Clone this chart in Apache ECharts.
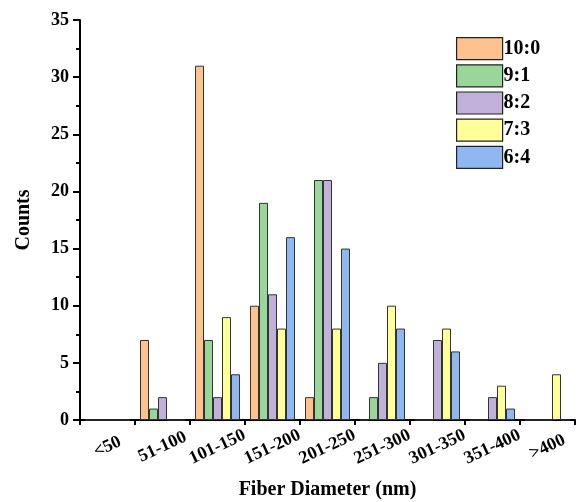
<!DOCTYPE html>
<html>
<head>
<meta charset="utf-8">
<script src="https://cdn.jsdelivr.net/npm/echarts@6/dist/echarts.min.js"></script>
<style>html,body{margin:0;padding:0;background:#fff}#c{width:577px;height:502px}</style>
</head>
<body>
<div id="c"></div>
<script>
var categories = ['<50', '51-100', '101-150', '151-200', '201-250', '251-300', '301-350', '351-400', '>400'];
var seriesNames = ['10:0', '9:1', '8:2', '7:3', '6:4'];
var s10_0 = [0, 7, 31, 10, 2, 0, 0, 0, 0];
var s9_1  = [0, 1, 7, 19, 21, 2, 0, 0, 0];
var s8_2  = [0, 2, 2, 11, 21, 5, 7, 2, 0];
var s7_3  = [0, 0, 9, 8, 8, 10, 8, 3, 4];
var s6_4  = [0, 0, 4, 16, 15, 8, 6, 1, 0];
var yTicks = [0, 5, 10, 15, 20, 25, 30, 35];

var colors = ['#FFC28F', '#99D69A', '#C0B1DA', '#FFFF99', '#90B8F0'];
var seriesData = [s10_0, s9_1, s8_2, s7_3, s6_4];
var FONT = "'Liberation Serif', 'Times New Roman', serif";

var chart = echarts.init(document.getElementById('c'), null, {renderer: 'canvas'});
var series = seriesNames.map(function (n, i) {
  return {
    name: n,
    type: 'bar',
    xAxisIndex: 0,
    barWidth: 9,
    barGap: '0%',
    data: seriesData[i],
    itemStyle: {color: colors[i], borderColor: '#333', borderWidth: 1}
  };
});
chart.setOption({
  animation: false,
  backgroundColor: '#fff',
  textStyle: {fontFamily: FONT},
  legend: {
    orient: 'vertical',
    left: 451,
    top: 32,
    itemWidth: 46,
    itemHeight: 22,
    itemGap: 4,
    icon: 'rect',
    data: seriesNames,
    textStyle: {fontFamily: FONT, fontWeight: 'bold', fontSize: 20, color: '#000', padding: [0, 0, 0, -4]},
    itemStyle: {borderColor: '#222', borderWidth: 1.2}
  },
  grid: {left: 80, right: 2, top: 20, bottom: 82, containLabel: false, outerBoundsMode: 'none'},
  xAxis: [{
    type: 'category',
    data: categories,
    name: 'Fiber Diameter (nm)',
    nameLocation: 'middle',
    nameGap: 60,
    nameTextStyle: {fontFamily: FONT, fontWeight: 'bold', fontSize: 20, color: '#000'},
    axisLine: {lineStyle: {color: '#000', width: 2}},
    axisTick: {alignWithLabel: true, length: 5, lineStyle: {color: '#000', width: 2}},
    axisLabel: {
      rotate: 25, align: 'center', verticalAlign: 'middle', margin: 27,
      fontFamily: FONT, fontWeight: 'bold', fontSize: 18, color: '#000', interval: 0
    },
    splitLine: {show: false}
  }, {
    type: 'category',
    data: categories,
    position: 'bottom',
    axisLine: {show: false},
    axisTick: {show: true, length: 5, lineStyle: {color: '#000', width: 2}},
    axisLabel: {show: false},
    splitLine: {show: false}
  }],
  yAxis: {
    type: 'value',
    min: yTicks[0],
    max: yTicks[yTicks.length - 1],
    interval: 5,
    name: 'Counts',
    nameLocation: 'middle',
    nameRotate: 90,
    nameGap: 46,
    nameTextStyle: {fontFamily: FONT, fontWeight: 'bold', fontSize: 20, color: '#000'},
    axisLine: {show: true, lineStyle: {color: '#000', width: 2}},
    axisTick: {show: true, length: 7, lineStyle: {color: '#000', width: 2}},
    minorTick: {show: true, splitNumber: 2, length: 4, lineStyle: {color: '#000', width: 2}},
    axisLabel: {margin: 11, fontFamily: FONT, fontWeight: 'bold', fontSize: 18, color: '#000'},
    splitLine: {show: false}
  },
  series: series
});
</script>
</body>
</html>
